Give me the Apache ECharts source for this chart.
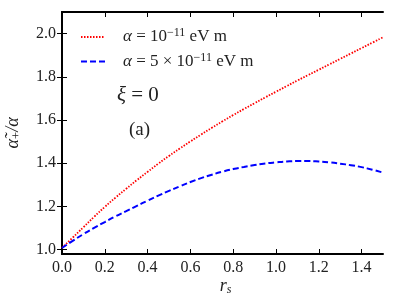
<!DOCTYPE html>
<html><head><meta charset="utf-8">
<script src="https://cdn.jsdelivr.net/npm/echarts@6/dist/echarts.min.js"></script>
<style>html,body{margin:0;padding:0;background:#fff}#c{width:399px;height:299px}</style>
</head><body><div id="c"></div>
<script>
const xs = [0, 0.05, 0.1, 0.15, 0.2, 0.25, 0.3, 0.35, 0.4, 0.45, 0.5, 0.55, 0.6, 0.65, 0.7, 0.75, 0.8, 0.85, 0.9, 0.95, 1.0, 1.05, 1.1, 1.15, 1.2, 1.25, 1.3, 1.35, 1.4, 1.45, 1.5];
const redVals = [1.008, 1.056, 1.104, 1.152, 1.198, 1.241, 1.282, 1.322, 1.360, 1.398, 1.434, 1.468, 1.501, 1.533, 1.564, 1.594, 1.623, 1.651, 1.678, 1.705, 1.731, 1.757, 1.783, 1.808, 1.833, 1.858, 1.883, 1.908, 1.933, 1.958, 1.983];
const blueVals = [1.008, 1.041, 1.072, 1.101, 1.128, 1.154, 1.178, 1.203, 1.227, 1.250, 1.272, 1.293, 1.313, 1.331, 1.347, 1.361, 1.373, 1.383, 1.392, 1.399, 1.404, 1.408, 1.410, 1.410, 1.408, 1.404, 1.398, 1.391, 1.382, 1.370, 1.357];
const xTicks = [0, 0.2, 0.4, 0.6, 0.8, 1.0, 1.2, 1.4];
const yTicks = [1.0, 1.2, 1.4, 1.6, 1.8, 2.0];
const seriesNames = ['red', 'blue'];
const legendTexts = {
  red: '{i|α} = 10{sup|−11} eV m',
  blue: '{i|α} = 5 × 10{sup|−11} eV m'
};
const FONT = 'Liberation Serif';
const TXT = '#222';
const chart = echarts.init(document.getElementById('c'));
const tickStyle = {show: true, inside: true, length: 5, lineStyle: {color: '#000', width: 1}};
const axisLine = {show: true, lineStyle: {color: '#000', width: 2}};
chart.setOption({
  animation: false,
  backgroundColor: '#fff',
  grid: {left: 62, right: 16, top: 12, bottom: 45, containLabel: false, outerBoundsMode: 'none'},
  legend: {
    left: 75, top: 22, orient: 'vertical', itemGap: 6, itemWidth: 24, itemHeight: 20,
    data: seriesNames,
    itemStyle: {opacity: 0},
    formatter: n => legendTexts[n],
    textStyle: {fontFamily: FONT, fontSize: 17, color: TXT, padding: [0,0,0,13],
      rich: {
        i: {fontFamily: FONT, fontStyle: 'italic', fontSize: 17, color: TXT},
        sup: {fontFamily: FONT, fontSize: 12, color: TXT, padding: [0,0,8,0]}
      }}
  },
  graphic: [
    {type: 'text', left: 117, top: 85, style: {text: '{i|ξ} = 0', fontFamily: FONT, fontSize: 21, fill: TXT,
      rich: {i: {fontFamily: FONT, fontStyle: 'italic', fontSize: 21, fill: TXT}}}},
    {type: 'text', left: 129, top: 121, style: {text: '(a)', fontFamily: FONT, fontSize: 19, fill: TXT}}
  ],
  xAxis: [{
    type: 'value', min: 0, max: 1.5, position: 'bottom',
    axisLine, axisTick: Object.assign({customValues: xTicks}, tickStyle),
    axisLabel: {customValues: xTicks, formatter: v => v.toFixed(1), fontFamily: FONT, fontSize: 16, color: TXT, margin: 6},
    splitLine: {show: false},
    name: '{i|r}{s|s}', nameLocation: 'middle', nameGap: 22, nameMoveOverlap: false,
    nameTextStyle: {padding: [0,0,0,6], rich: {i: {fontFamily: FONT, fontStyle: 'italic', fontSize: 18, color: TXT},
      s: {fontFamily: FONT, fontStyle: 'italic', fontSize: 12, color: TXT, padding: [8,0,0,0]}}}
  }, {
    type: 'value', min: 0, max: 1.5, position: 'top',
    axisLine, axisTick: Object.assign({customValues: xTicks}, tickStyle),
    axisLabel: {show: false}, splitLine: {show: false}
  }],
  yAxis: [{
    type: 'value', min: 0.98, max: 2.1, position: 'left',
    axisLine, axisTick: Object.assign({customValues: yTicks}, tickStyle),
    axisLabel: {customValues: yTicks, formatter: v => v.toFixed(1), fontFamily: FONT, fontSize: 16, color: TXT, margin: 6},
    splitLine: {show: false},
    name: '{i|α̃}{s|+}{i|/α}', nameLocation: 'middle', nameGap: 39, nameRotate: 90,
    nameTextStyle: {rich: {i: {fontFamily: FONT, fontStyle: 'italic', fontSize: 18, color: TXT},
      s: {fontFamily: FONT, fontSize: 13, color: TXT, padding: [7,0,0,0]}}}
  }, {
    type: 'value', min: 0.98, max: 2.1, position: 'right',
    axisLine, axisTick: Object.assign({customValues: yTicks}, tickStyle),
    axisLabel: {show: false}, splitLine: {show: false}
  }],
  series: [{
    name: 'red', type: 'line', smooth: true, symbol: 'none',
    data: xs.map((x, i) => [x, redVals[i]]),
    itemStyle: {color: '#ff0000'},
    lineStyle: {color: '#ff0000', width: 1.8, type: [1.5, 1.5]}
  }, {
    name: 'blue', type: 'line', smooth: true, symbol: 'none',
    data: xs.map((x, i) => [x, blueVals[i]]),
    itemStyle: {color: '#0000ff'},
    lineStyle: {color: '#0000ff', width: 2, type: [6, 3]}
  }]
});
</script></body></html>
